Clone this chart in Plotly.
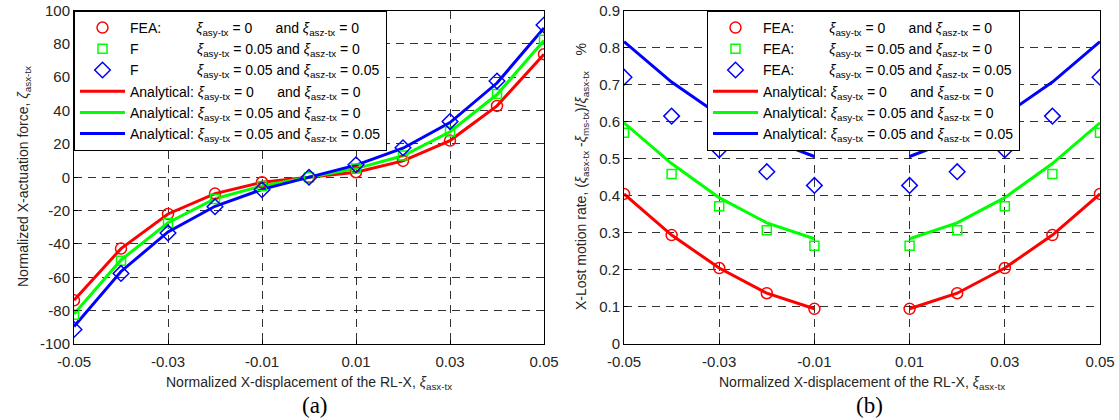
import plotly.graph_objects as go

# ---------------- data ----------------
x_disp = [-0.05, -0.04, -0.03, -0.02, -0.01, 0.0, 0.01, 0.02, 0.03, 0.04, 0.05]

# (a) normalized X-actuation force
force_fea_0 = [-73.8, -42.8, -22.0, -9.8, -3.0, 0.0, 3.0, 9.8, 22.0, 42.8, 73.8]
force_fea_005 = [-82.5, -50.0, -27.5, -13.0, -5.3, 0.0, 5.3, 13.0, 27.5, 50.0, 82.5]
force_fea_005_005 = [-91.3, -57.7, -33.4, -17.7, -7.5, 0.0, 7.5, 17.7, 33.4, 57.7, 91.3]
force_an_0 = [-73.8, -42.8, -22.0, -9.8, -3.0, 0.0, 3.0, 9.8, 22.0, 42.8, 73.8]
force_an_005 = [-82.0, -49.6, -27.3, -12.9, -5.2, 0.0, 5.2, 12.9, 27.3, 49.6, 82.0]
force_an_005_005 = [-89.5, -56.5, -32.8, -17.4, -7.3, 0.0, 7.3, 17.4, 32.8, 56.5, 89.5]

# (b) X-lost motion rate (no value at zero displacement)
lost_fea_0 = [0.405, 0.294, 0.205, 0.137, 0.095, None, 0.095, 0.137, 0.205, 0.294, 0.405]
lost_fea_005 = [0.570, 0.459, 0.372, 0.307, 0.265, None, 0.265, 0.307, 0.372, 0.459, 0.570]
lost_fea_005_005 = [0.720, 0.615, 0.524, 0.465, 0.428, None, 0.428, 0.465, 0.524, 0.615, 0.720]
lost_an_0 = [0.405, 0.294, 0.205, 0.137, 0.095, None, 0.095, 0.137, 0.205, 0.294, 0.405]
lost_an_005 = [0.597, 0.487, 0.395, 0.327, 0.284, None, 0.284, 0.327, 0.395, 0.487, 0.597]
lost_an_005_005 = [0.816, 0.707, 0.618, 0.555, 0.506, None, 0.506, 0.555, 0.618, 0.707, 0.816]

x_tickvals = [-0.05, -0.03, -0.01, 0.01, 0.03, 0.05]
x_ticktext = ["-0.05", "-0.03", "-0.01", "0.01", "0.03", "0.05"]
ya_tickvals = [-100, -80, -60, -40, -20, 0, 20, 40, 60, 80, 100]
ya_ticktext = ["-100", "-80", "-60", "-40", "-20", "0", "20", "40", "60", "80", "100"]
yb_tickvals = [0, 0.1, 0.2, 0.3, 0.4, 0.5, 0.6, 0.7, 0.8, 0.9]
yb_ticktext = ["0", "0.1", "0.2", "0.3", "0.4", "0.5", "0.6", "0.7", "0.8", "0.9"]

# ---------------- style ----------------
RED, GREEN, BLUE = "#FF0000", "#00FF00", "#0000FF"
FONT = "Liberation Sans, Arial, sans-serif"
TXT = "#262626"
NB = "\u00a0"
XI = "<i>ξ</i>"

def cond(a, b, pad_a=False):
    sa = f"{XI}<sub>asy-tx</sub> = {a}"
    if pad_a:
        sa += NB * 6
    else:
        sa += " "
    return f"{sa}and {XI}<sub>asz-tx</sub> = {b}"

labels_a = [
    "FEA:" + NB * 9 + cond("0", "0", True),
    "F" + NB * 15 + cond("0.05", "0"),
    "F" + NB * 15 + cond("0.05", "0.05"),
    "Analytical: " + cond("0", "0", True),
    "Analytical: " + cond("0.05", "0"),
    "Analytical: " + cond("0.05", "0.05"),
]
labels_b = [
    "FEA:" + NB * 9 + cond("0", "0", True),
    "FEA:" + NB * 9 + cond("0.05", "0"),
    "FEA:" + NB * 9 + cond("0.05", "0.05"),
    "Analytical: " + cond("0", "0", True),
    "Analytical: " + cond("0.05", "0"),
    "Analytical: " + cond("0.05", "0.05"),
]

fig = go.Figure()

def add_panel(xa, ya, leg, fea, an, labels):
    colors = [RED, GREEN, BLUE]
    symbols = ["circle-open", "square-open", "diamond-open"]
    sizes = [11, 9, 12]
    for i in range(3):
        fig.add_trace(go.Scatter(
            x=x_disp, y=an[i], mode="lines", name=labels[3 + i],
            line=dict(color=colors[i], width=3), xaxis=xa, yaxis=ya,
            legend=leg, legendrank=4 + i, connectgaps=False, showlegend=True))
    for i in range(3):
        fig.add_trace(go.Scatter(
            x=x_disp, y=fea[i], mode="markers", name=labels[i],
            marker=dict(symbol=symbols[i], size=sizes[i], color=colors[i],
                        line=dict(width=1.5, color=colors[i])),
            xaxis=xa, yaxis=ya, legend=leg, legendrank=1 + i))

add_panel("x", "y", "legend",
          [force_fea_0, force_fea_005, force_fea_005_005],
          [force_an_0, force_an_005, force_an_005_005], labels_a)
add_panel("x2", "y2", "legend2",
          [lost_fea_0, lost_fea_005, lost_fea_005_005],
          [lost_an_0, lost_an_005, lost_an_005_005], labels_b)

W, H = 1119, 420
def px(x):
    return x / W
def py(y):
    return (H - y) / H

yd = [py(344), py(10.5)]
axis_common = dict(showline=True, linecolor="black", linewidth=1, mirror=True,
                   ticks="inside", ticklen=4, tickcolor="black", automargin=False,
                   showgrid=True, gridcolor="rgba(0,0,0,0.8)", gridwidth=1,
                   griddash="8px,6px", zeroline=False,
                   tickfont=dict(family=FONT, size=15, color=TXT))

fig.update_layout(
    width=W, height=H, margin=dict(l=0, r=0, t=0, b=0),
    paper_bgcolor="white", plot_bgcolor="white",
    font=dict(family=FONT, size=14, color=TXT),
    xaxis=dict(domain=[px(74), px(544)], range=[-0.05, 0.05], anchor="y",
               tickvals=x_tickvals, ticktext=x_ticktext, ticklabelstandoff=4,
               **axis_common),
    yaxis=dict(domain=yd, range=[-100, 100], anchor="x",
               tickvals=ya_tickvals, ticktext=ya_ticktext, **axis_common),
    xaxis2=dict(domain=[px(624), px(1100)], range=[-0.05, 0.05], anchor="y2",
                tickvals=x_tickvals, ticktext=x_ticktext, ticklabelstandoff=4,
                **axis_common),
    yaxis2=dict(domain=yd, range=[0, 0.9], anchor="x2",
                tickvals=yb_tickvals, ticktext=yb_ticktext, **axis_common),
    legend=dict(x=px(74), y=py(11), xanchor="left", yanchor="top",
                bgcolor="white", bordercolor="black", borderwidth=1,
                font=dict(family=FONT, size=14, color="black"),
                itemwidth=45, tracegroupgap=0),
    legend2=dict(x=px(707), y=py(11), xanchor="left", yanchor="top",
                 bgcolor="white", bordercolor="black", borderwidth=1,
                 font=dict(family=FONT, size=14, color="black"),
                 itemwidth=45, tracegroupgap=0),
)

ann = dict(xref="paper", yref="paper", showarrow=False, xanchor="center", yanchor="middle",
           font=dict(family=FONT, size=14, color=TXT))
fig.add_annotation(x=px(309), y=py(383), text=f"Normalized X-displacement of the RL-X, {XI}<sub>asx-tx</sub>", **ann)
fig.add_annotation(x=px(862), y=py(383), text=f"Normalized X-displacement of the RL-X, {XI}<sub>asx-tx</sub>", **ann)
fig.add_annotation(x=px(24), y=py(177), textangle=-90,
                   text="Normalized X-actuation force, <i>ζ</i><sub>asx-tx</sub>", **ann)
fig.add_annotation(x=px(582), y=py(177), textangle=-90,
                   text=f"X-Lost motion rate, ({XI}<sub>asx-tx</sub> -{XI}<sub>ms-tx</sub>)/{XI}<sub>asx-tx</sub>" + NB * 4 + "%", **ann)
serif = dict(family="Liberation Serif, DejaVu Serif, serif", size=23, color="black")
fig.add_annotation(x=px(315), y=py(405), text="(a)", xref="paper", yref="paper",
                   showarrow=False, xanchor="center", yanchor="middle", font=serif)
fig.add_annotation(x=px(869), y=py(405), text="(b)", xref="paper", yref="paper",
                   showarrow=False, xanchor="center", yanchor="middle", font=serif)

fig.write_html("out.html", config={"displayModeBar": False},
               post_script="document.body.style.margin='0px';document.body.style.overflow='hidden';")
